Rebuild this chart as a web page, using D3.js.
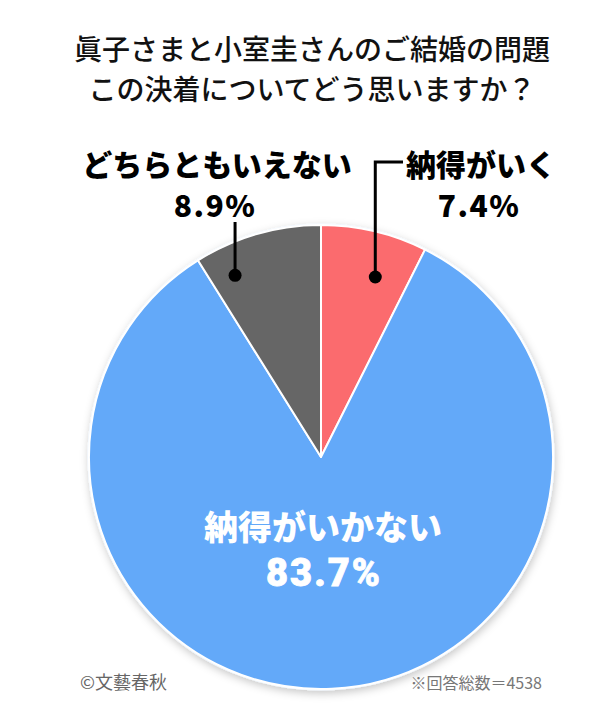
<!DOCTYPE html>
<html><head><meta charset="utf-8">
<script src="https://cdn.jsdelivr.net/npm/d3@7"></script>
<style>
html,body{margin:0;padding:0;background:#fff;}
svg{display:block;font-family:"Noto Sans CJK JP","Noto Sans",sans-serif;}
</style></head>
<body>
<svg id="chart" width="614" height="708"></svg>
<script>
const titleLines = ["眞子さまと小室圭さんのご結婚の問題", "この決着についてどう思いますか？"];
const categories = ["納得がいく", "納得がいかない", "どちらともいえない"];
const values = [7.4, 83.7, 8.9];
const valueLabels = ["7.4%", "83.7%", "8.9%"];
const colors = ["#fb6b6e", "#63a9f9", "#666666"];
const credit = "©文藝春秋";
const note = "※回答総数＝4538";

const svg = d3.select("#chart");
const cx = 321, cy = 457, R = 232;

const defs = svg.append("defs");
const f = defs.append("filter").attr("id","sh").attr("x","-20%").attr("y","-20%").attr("width","140%").attr("height","140%");
f.append("feDropShadow").attr("dx",1).attr("dy",3).attr("stdDeviation",4).attr("flood-color","#000").attr("flood-opacity",0.22);

// title
svg.selectAll("text.title").data(titleLines).enter().append("text")
  .attr("class","title")
  .attr("x", 312).attr("y",(d,i)=>48 + i*40)
  .attr("text-anchor","middle").attr("dominant-baseline","central")
  .attr("font-size",28).attr("font-weight",500).attr("fill","#111")
  .text(d=>d);

const pie = d3.pie().sort(null).value(d=>d)(values);
const arc = d3.arc().innerRadius(0).outerRadius(R);
const g = svg.append("g").attr("transform",`translate(${cx},${cy})`);

g.append("circle").attr("r",R+1.5).attr("fill","#eef6ff").attr("filter","url(#sh)");
g.selectAll("path").data(pie).enter().append("path")
  .attr("d",arc).attr("fill",(d,i)=>colors[i])
  .attr("stroke","#fff").attr("stroke-width",2).attr("stroke-linejoin","round");

// inner label for the big slice
const bigIdx = 1;
g.append("text").attr("x",2).attr("y",68)
  .attr("text-anchor","middle").attr("dominant-baseline","central")
  .attr("font-size",34).attr("font-weight",900).attr("fill","#fff")
  .text(categories[bigIdx]);
g.append("text").attr("x",3).attr("y",116)
  .attr("text-anchor","middle").attr("dominant-baseline","central")
  .attr("font-family","Roboto, 'Liberation Sans', sans-serif")
  .attr("font-size",38).attr("font-weight",900).attr("letter-spacing",2)
  .attr("fill","#fff").attr("stroke","#fff").attr("stroke-width",0.8)
  .text(valueLabels[bigIdx]);

// callouts: dot polar positions (fraction through slice, radius)
function polar(a, r){ return [r*Math.sin(a), -r*Math.cos(a)]; }
const callouts = [
  {i:0, frac:0.63, r:188, lineTop:162, elbowX:403, labelX:481},
  {i:2, frac:0.21, r:201, lineTop:222, elbowX:null, labelX:217}
];
callouts.forEach(c=>{
  const d = pie[c.i];
  const a = d.startAngle + (d.endAngle-d.startAngle)*c.frac;
  const [px,py] = polar(a,c.r);
  const x = cx+px, y = cy+py;
  let pts = [[x,y],[x,c.lineTop]];
  if(c.elbowX!==null) pts.push([c.elbowX,c.lineTop]);
  svg.append("path").attr("d",d3.line()(pts)).attr("fill","none")
    .attr("stroke","#000").attr("stroke-width",3);
  svg.append("circle").attr("cx",x).attr("cy",y).attr("r",6.5).attr("fill","#000");
  svg.append("text").attr("x",c.labelX).attr("y",163)
    .attr("text-anchor","middle").attr("dominant-baseline","central")
    .attr("font-size",30).attr("font-weight",900).attr("fill","#000")
    .text(categories[c.i]);
  svg.append("text").attr("x",c.labelX-2).attr("y",204)
    .attr("text-anchor","middle").attr("dominant-baseline","central")
    .attr("font-size",30).attr("font-weight",900).attr("letter-spacing",1.5).attr("fill","#000")
    .text(valueLabels[c.i]);
});

svg.append("text").attr("x",80).attr("y",681).attr("dominant-baseline","central")
  .attr("font-size",18).attr("fill","#666").text(credit);
svg.append("text").attr("x",542).attr("y",682).attr("text-anchor","end").attr("dominant-baseline","central")
  .attr("font-size",16).attr("fill","#777").text(note);
</script>
</body></html>
